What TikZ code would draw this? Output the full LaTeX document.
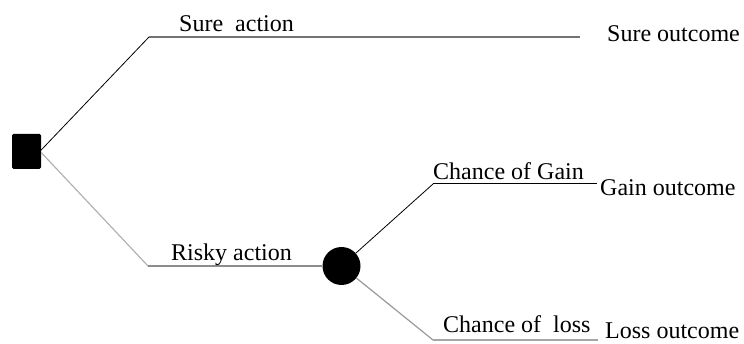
\documentclass[tikz,border=0pt]{standalone}
\usepackage{fontspec}
\setmainfont{Liberation Serif}
\begin{document}
\begin{tikzpicture}[x=1pt,y=-1pt,
  lbl/.style={anchor=base west,inner sep=0pt,font=\fontsize{24}{28}\selectfont},
  decbox/.style={fill=black,draw=none,minimum width=29pt,minimum height=35pt,inner sep=0pt,rounded corners=1.5pt},
  chancenode/.style={circle,fill=black,draw=none,minimum size=38pt,inner sep=0pt},
  darkline/.style={draw=black,line width=0.8pt},
  topline/.style={draw=black!55,line width=1.5pt},
  lightline/.style={draw=black!30,line width=1.2pt},
  midline/.style={draw=black!45,line width=2pt},
  lossline/.style={draw=black!35,line width=1.6pt}]
\useasboundingbox (0,0) rectangle (744,344);
\node[decbox] (dec) at (26.5,151.5) {};
\node[chancenode] (chance) at (341.5,266) {};
\coordinate (sa) at (149,37);
\coordinate (se) at (580,37);
\coordinate (ra) at (148,266);
\coordinate (ga) at (433,184);
\coordinate (ge) at (597,184);
\coordinate (la) at (433,340);
\coordinate (le) at (598,340);
\draw[darkline] ([yshift=1.5pt]dec.east) -- (sa);
\draw[topline] (sa) -- (se);
\draw[lightline] ([yshift=-1pt]dec.east) -- (ra);
\draw[midline] (ra) -- (chance);
\draw[darkline] (chance) -- (ga);
\draw[darkline,line width=1pt] (ga) -- (ge);
\draw[lightline,draw=black!40] (chance) -- (la);
\draw[lossline] (la) -- (le);
\node[lbl] (tsa) at (179,32) {Sure\ \ action};
\node[lbl] (tso) at (607,42) {Sure outcome};
\node[lbl] (tra) at (171,261) {Risky action};
\node[lbl] (tcg) at (433,180) {Chance of Gain};
\node[lbl] (tgo) at (600,196) {Gain outcome};
\node[lbl] (tcl) at (443,333) {Chance of\ \ loss};
\node[lbl] (tlo) at (605,339) {Loss outcome};
\end{tikzpicture}
\end{document}
